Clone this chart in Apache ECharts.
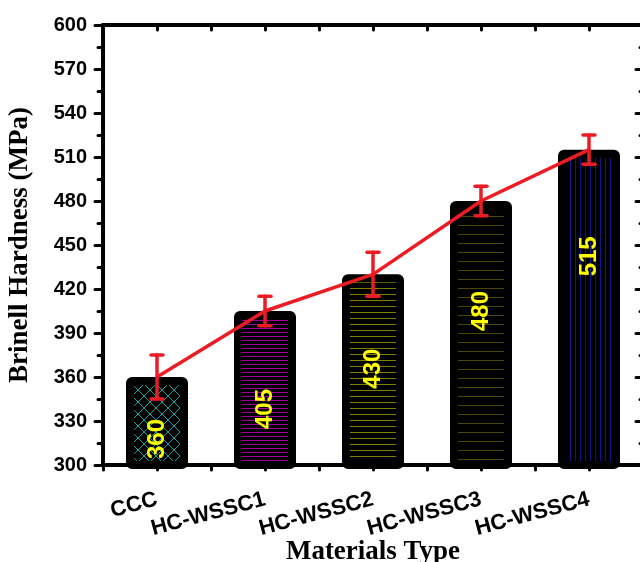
<!DOCTYPE html>
<html>
<head>
<meta charset="utf-8">
<script src="https://cdn.jsdelivr.net/npm/echarts@6/dist/echarts.min.js"></script>
<style>html,body{margin:0;padding:0;background:#fff;}#c{width:640px;height:562px;}</style>
</head>
<body>
<div id="c"></div>
<script>
// ---- data ----
var categories = ['CCC', 'HC-WSSC1', 'HC-WSSC2', 'HC-WSSC3', 'HC-WSSC4'];
var hardness = [360, 405, 430, 480, 515];
var errLow = [345, 395, 415, 470, 505];
var errHigh = [375, 415, 445, 490, 525];
var yTicks = { min: 300, max: 600, step: 30 };

// ---- styles ----
var labelShift = [16, 19, -3, -24, -53];

function makePattern(kind) {
  var c = document.createElement('canvas');
  var ctx;
  if (kind === 'cross') {
    c.width = 12; c.height = 12; ctx = c.getContext('2d');
    ctx.fillStyle = '#000'; ctx.fillRect(0, 0, 12, 12);
    ctx.strokeStyle = '#149c9c'; ctx.lineWidth = 1;
    ctx.beginPath(); ctx.moveTo(0, 0); ctx.lineTo(12, 12); ctx.moveTo(12, 0); ctx.lineTo(0, 12); ctx.stroke();
  } else if (kind.type === 'h') {
    c.width = 4; c.height = kind.gap; ctx = c.getContext('2d');
    ctx.fillStyle = '#000'; ctx.fillRect(0, 0, c.width, c.height);
    ctx.fillStyle = kind.color; ctx.fillRect(0, 0, c.width, 1);
  } else {
    c.width = kind.gap; c.height = 4; ctx = c.getContext('2d');
    ctx.fillStyle = '#000'; ctx.fillRect(0, 0, c.width, c.height);
    ctx.fillStyle = kind.color; ctx.fillRect(0, 0, 1, c.height);
  }
  return { image: c, repeat: 'repeat' };
}
var patterns = [
  makePattern('cross'),
  makePattern({ type: 'h', gap: 4, color: '#a000a0' }),
  makePattern({ type: 'h', gap: 6, color: '#7e7e00' }),
  makePattern({ type: 'h', gap: 9, color: '#4a4600' }),
  makePattern({ type: 'v', gap: 5, color: '#14148a' })
];

var RED = '#ec1c24';
var barData = hardness.map(function (v, i) {
  return {
    value: v,
    itemStyle: { color: patterns[i] },
    label: { offset: [-labelShift[i], 0] }
  };
});
var errData = categories.map(function (c, i) { return [i, errLow[i], errHigh[i]]; });

var axisLineStyle = { color: '#000', width: 4 };
var tickStyle = { color: '#000', width: 3, cap: 'round' };

var chart = echarts.init(document.getElementById('c'), null, { renderer: 'canvas' });
chart.setOption({
  animation: false,
  backgroundColor: '#fff',
  grid: { left: 103, top: 25, width: 540, height: 440, containLabel: false, outerBoundsMode: 'none' },
  xAxis: [
    {
      type: 'category', data: categories, position: 'bottom', z: 5,
      axisLine: { onZero: false, lineStyle: axisLineStyle },
      axisTick: { alignWithLabel: true, length: 9, lineStyle: tickStyle },
      axisLabel: { interval: 0, hideOverlap: false, rotate: 15, margin: 34, color: '#000', fontFamily: 'Liberation Sans, Arial', fontWeight: 'bold', fontSize: 22 },
      name: 'Materials Type', nameLocation: 'middle', nameGap: 74, nameMoveOverlap: false,
      nameTextStyle: { color: '#000', fontFamily: 'Liberation Serif, Times New Roman', fontWeight: 'bold', fontSize: 27 }
    },
    {
      type: 'category', data: categories, position: 'top', z: 5,
      axisLine: { onZero: false, lineStyle: axisLineStyle },
      axisTick: { alignWithLabel: true, inside: true, length: 8, lineStyle: tickStyle },
      axisLabel: { show: false }
    },
    {
      type: 'value', position: 'bottom', min: -0.5, max: 4.5, interval: 0.5, z: 5,
      axisLine: { show: false, onZero: false }, splitLine: { show: false },
      axisTick: { length: 5, lineStyle: tickStyle }, axisLabel: { show: false }
    },
    {
      type: 'value', position: 'top', min: -0.5, max: 4.5, interval: 0.5, z: 5,
      axisLine: { show: false, onZero: false }, splitLine: { show: false },
      axisTick: { inside: true, length: 5, lineStyle: tickStyle }, axisLabel: { show: false }
    }
  ],
  yAxis: [
    {
      type: 'value', position: 'left', min: yTicks.min, max: yTicks.max, interval: yTicks.step, z: 5,
      axisLine: { show: true, onZero: false, lineStyle: axisLineStyle },
      axisTick: { show: true, length: 8, lineStyle: tickStyle },
      minorTick: { show: true, splitNumber: 2, length: 5, lineStyle: tickStyle },
      splitLine: { show: false }, minorSplitLine: { show: false },
      axisLabel: { margin: 16, color: '#000', fontFamily: 'Liberation Sans, Arial', fontWeight: 'bold', fontSize: 20 },
      name: 'Brinell Hardness (MPa)', nameLocation: 'middle', nameGap: 69, nameMoveOverlap: false,
      nameTextStyle: { color: '#000', fontFamily: 'Liberation Serif, Times New Roman', fontWeight: 'bold', fontSize: 27 }
    },
    {
      type: 'value', position: 'right', min: yTicks.min, max: yTicks.max, interval: yTicks.step, z: 5,
      axisLine: { show: true, onZero: false, lineStyle: axisLineStyle },
      axisTick: { show: true, inside: true, length: 7, lineStyle: tickStyle },
      minorTick: { show: true, splitNumber: 2, length: 3, lineStyle: tickStyle },
      splitLine: { show: false }, minorSplitLine: { show: false },
      axisLabel: { show: false }
    }
  ],
  series: [
    {
      type: 'bar', data: barData, barWidth: 62, z: 2,
      itemStyle: { borderColor: '#000', borderWidth: 8, borderRadius: 2 },
      label: {
        show: true, position: 'inside', rotate: 90, color: '#ffff00',
        fontFamily: 'Liberation Sans, Arial', fontWeight: 'bold', fontSize: 24
      }
    },
    {
      type: 'line', data: hardness, z: 3, symbol: 'none',
      lineStyle: { color: RED, width: 3.5 }
    },
    {
      type: 'custom', data: errData, z: 4,
      encode: { x: 0, y: [1, 2] },
      renderItem: function (params, api) {
        var lo = api.coord([api.value(0), api.value(1)]);
        var hi = api.coord([api.value(0), api.value(2)]);
        var hw = 6;
        var st = { stroke: RED, lineWidth: 3.5, lineCap: 'round' };
        return {
          type: 'group',
          children: [
            { type: 'line', shape: { x1: lo[0], y1: lo[1], x2: hi[0], y2: hi[1] }, style: st },
            { type: 'line', shape: { x1: lo[0] - hw, y1: lo[1], x2: lo[0] + hw, y2: lo[1] }, style: st },
            { type: 'line', shape: { x1: hi[0] - hw, y1: hi[1], x2: hi[0] + hw, y2: hi[1] }, style: st }
          ]
        };
      }
    }
  ]
});
</script>
</body>
</html>
